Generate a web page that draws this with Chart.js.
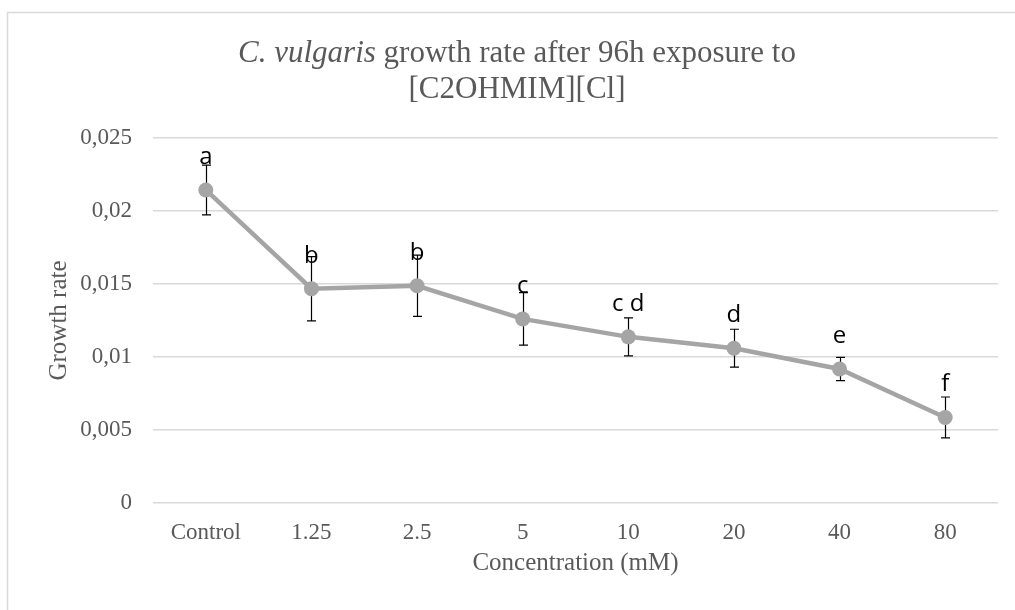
<!DOCTYPE html>
<html>
<head>
<meta charset="utf-8">
<script src="https://cdn.jsdelivr.net/npm/chart.js@4.4.1/dist/chart.umd.min.js"></script>
<style>
  html, body { margin: 0; padding: 0; background: #fff; }
  #wrap { width: 1015px; height: 610px; }
</style>
</head>
<body>
<div id="wrap"><canvas id="growth"></canvas></div>
<script>
const categories = ["Control", "1.25", "2.5", "5", "10", "20", "40", "80"];
const growthRate = [0.02144, 0.01468, 0.01488, 0.01261, 0.01138, 0.0106, 0.00918, 0.00586];
const errorSize = [0.0017, 0.0022, 0.0021, 0.0018, 0.0013, 0.0013, 0.0008, 0.0014];
const groupLetters = ["a", "b", "b", "c", "c d", "d", "e", "f"];
const yTickValues = [0, 0.005, 0.01, 0.015, 0.02, 0.025];

const titleItalic = "C. vulgaris";
const titleRest = " growth rate after 96h exposure to";
const titleLine2 = "[C2OHMIM][Cl]";

const serif = "'Liberation Serif', 'Times New Roman', serif";
const textGray = "#595959";

/*---- frame of the chart area (left + top edge visible) ----*/
const framePlugin = {
  id: "frame",
  beforeDraw(chart) {
    const ctx = chart.ctx;
    ctx.save();
    ctx.strokeStyle = "#d9d9d9";
    ctx.lineWidth = 1.5;
    ctx.beginPath();
    ctx.moveTo(7.5, chart.height);
    ctx.lineTo(7.5, 12.5);
    ctx.lineTo(chart.width, 12.5);
    ctx.stroke();
    ctx.restore();
  },
};

/*---- title with italic species name ----*/
const titlePlugin = {
  id: "mixedTitle",
  afterDraw(chart) {
    const ctx = chart.ctx;
    const cx = 517;
    ctx.save();
    ctx.fillStyle = textGray;
    ctx.textBaseline = "alphabetic";
    ctx.textAlign = "left";
    ctx.font = "italic 31px " + serif;
    const w1 = ctx.measureText(titleItalic).width;
    ctx.font = "31px " + serif;
    const w2 = ctx.measureText(titleRest).width;
    let x = cx - (w1 + w2) / 2;
    ctx.font = "italic 31px " + serif;
    ctx.fillText(titleItalic, x, 62);
    ctx.font = "31px " + serif;
    ctx.fillText(titleRest, x + w1, 62);
    ctx.textAlign = "center";
    ctx.fillText(titleLine2, cx, 98);
    ctx.restore();
  },
};

/*---- error bars (under the line) ----*/
const errorBarPlugin = {
  id: "errorBars",
  beforeDatasetsDraw(chart) {
    const ctx = chart.ctx;
    const yScale = chart.scales.y;
    const meta = chart.getDatasetMeta(0);
    ctx.save();
    ctx.strokeStyle = "#000";
    ctx.lineWidth = 1.2;
    meta.data.forEach((pt, i) => {
      const top = yScale.getPixelForValue(growthRate[i] + errorSize[i]);
      const bot = yScale.getPixelForValue(growthRate[i] - errorSize[i]);
      const x = Math.round(pt.x) + 0.5;
      ctx.beginPath();
      ctx.moveTo(x, top);
      ctx.lineTo(x, bot);
      ctx.moveTo(x - 4.5, top);
      ctx.lineTo(x + 4.5, top);
      ctx.moveTo(x - 4.5, bot);
      ctx.lineTo(x + 4.5, bot);
      ctx.stroke();
    });
    ctx.restore();
  },
};

/*---- significance letters ----*/
const letterPlugin = {
  id: "letters",
  afterDatasetsDraw(chart) {
    const ctx = chart.ctx;
    const meta = chart.getDatasetMeta(0);
    ctx.save();
    ctx.fillStyle = "#000";
    ctx.font = "24px 'Open Sans', 'Liberation Sans', sans-serif";
    ctx.textAlign = "center";
    ctx.textBaseline = "alphabetic";
    meta.data.forEach((pt, i) => {
      ctx.fillText(groupLetters[i], pt.x, pt.y - 26);
    });
    ctx.restore();
  },
};

new Chart(document.getElementById("growth"), {
  type: "line",
  data: {
    labels: categories,
    datasets: [
      {
        label: "Growth rate",
        data: growthRate,
        borderColor: "#a5a5a5",
        backgroundColor: "#a5a5a5",
        borderWidth: 4.5,
        tension: 0,
        pointRadius: 7.5,
        pointBorderWidth: 0,
        pointBackgroundColor: "#a5a5a5",
      },
    ],
  },
  options: {
    responsive: true,
    maintainAspectRatio: false,
    animation: false,
    layout: {
      padding: { top: 138, right: 17, bottom: 0, left: 0 },
    },
    plugins: {
      legend: { display: false },
      tooltip: { enabled: false },
      title: { display: false },
    },
    scales: {
      x: {
        offset: true,
        grid: { display: false, drawTicks: false },
        border: { display: false },
        ticks: {
          color: textGray,
          font: { family: serif, size: 23 },
          padding: 16,
          maxRotation: 0,
        },
        title: {
          display: true,
          text: "Concentration (mM)",
          color: textGray,
          font: { family: serif, size: 25 },
          padding: { top: 0, bottom: 32 },
        },
        afterFit(scale) {
          scale.height = 107;
        },
      },
      y: {
        min: 0,
        max: 0.025,
        afterBuildTicks(scale) {
          scale.ticks = yTickValues.map((v) => ({ value: v }));
        },
        grid: { color: "#d9d9d9", lineWidth: 1.5, drawTicks: false },
        border: { display: false },
        ticks: {
          color: textGray,
          font: { family: serif, size: 23 },
          padding: 21,
          callback: (v) => String(v).replace(".", ","),
        },
        title: {
          display: true,
          text: "Growth rate",
          color: textGray,
          font: { family: serif, size: 25 },
          padding: { top: 44, bottom: 0 },
        },
        afterFit(scale) {
          scale.width = 153;
        },
      },
    },
  },
  plugins: [framePlugin, errorBarPlugin, letterPlugin, titlePlugin],
});
</script>
</body>
</html>
